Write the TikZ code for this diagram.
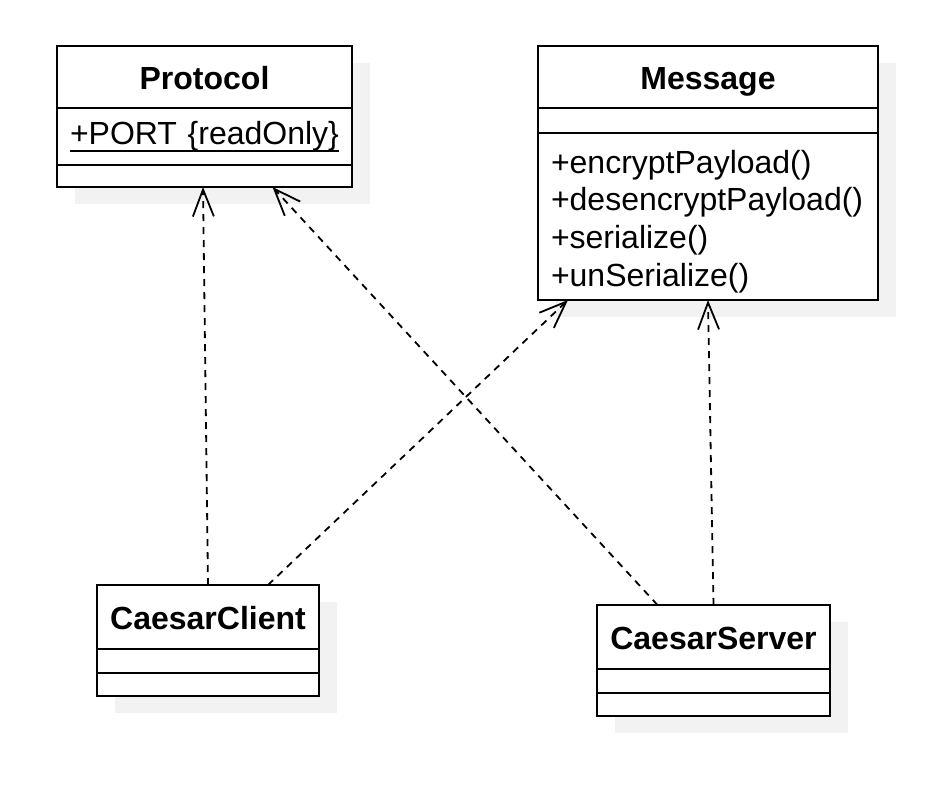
\documentclass[tikz,border=0pt]{standalone}
\usepackage{fontspec}
\setmainfont{Liberation Sans}
\usetikzlibrary{arrows.meta,positioning,backgrounds}

% underlined (static) attribute with a heavier rule
\newcommand{\staticattr}[1]{\setbox0\hbox{#1}\rlap{\rule[-8pt]{\wd0}{2pt}}\box0}

\begin{document}
\begin{tikzpicture}[x=1pt, y=-1pt, node distance=0pt, line width=2pt,
    part/.style={draw=black, fill=white, outer sep=0pt, inner sep=0pt,
        font=\fontsize{32}{37.7}\selectfont},
    headpart/.style={part, text height=30pt, text depth=6pt,
        font=\fontsize{32}{37.7}\selectfont\bfseries},
    listpart/.style={part, inner xsep=13pt, align=left},
    realize/.style={draw=black, line width=1.8pt, dash pattern=on 7pt off 6pt,
        -{Straight Barb[length=27pt, width=21pt]}},
    shadow/.style={fill=black!5}]

    \useasboundingbox (0,0) rectangle (942,795);

    % Protocol
    \node[headpart, anchor=north west, minimum width=295pt, minimum height=62pt] (ptitle) at (57,46) {Protocol};
    \node[listpart, below=of ptitle, text width=269pt, minimum height=57pt] (pattr) {\staticattr{+PORT \{readOnly\}}};
    \node[part, below=of pattr, minimum width=295pt, minimum height=22pt] (pops) {};

    % Message
    \node[headpart, anchor=north west, minimum width=340pt, minimum height=62pt] (mtitle) at (538,46) {Message};
    \node[part, below=of mtitle, minimum width=340pt, minimum height=25pt] (mattr) {};
    \node[listpart, below=of mattr, text width=314pt, minimum height=167pt] (mops)
        {\rule{0pt}{33pt}+encryptPayload()\\+desencryptPayload()\\+serialize()\\+unSerialize()};

    % CaesarClient
    \node[headpart, anchor=north west, minimum width=222pt, minimum height=64pt] (ctitle) at (97,585) {CaesarClient};
    \node[part, below=of ctitle, minimum width=222pt, minimum height=24pt] (cattr) {};
    \node[part, below=of cattr, minimum width=222pt, minimum height=23pt] (cops) {};

    % CaesarServer
    \node[headpart, anchor=north west, minimum width=233pt, minimum height=64pt] (stitle) at (597,605) {CaesarServer};
    \node[part, below=of stitle, minimum width=233pt, minimum height=24pt] (sattr) {};
    \node[part, below=of sattr, minimum width=233pt, minimum height=23pt] (sops) {};

    \begin{scope}[on background layer]
      \foreach \t/\b in {ptitle/pops, mtitle/mops, ctitle/cops, stitle/sops}{
        \fill[shadow] ([shift={(18,17)}]\t.north west) rectangle ([shift={(18,17)}]\b.south east);
      }
    \end{scope}

    % dependencies
    \draw[realize] (ctitle.north) -- ([xshift=-1.5pt]pops.south);
    \draw[realize] ([xshift=60pt]ctitle.north) -- ([xshift=-140pt]mops.south);
    \draw[realize] ([xshift=-56pt]stitle.north) -- ([xshift=68pt]pops.south);
    \draw[realize] (stitle.north) -- (mops.south);

\end{tikzpicture}
\end{document}
